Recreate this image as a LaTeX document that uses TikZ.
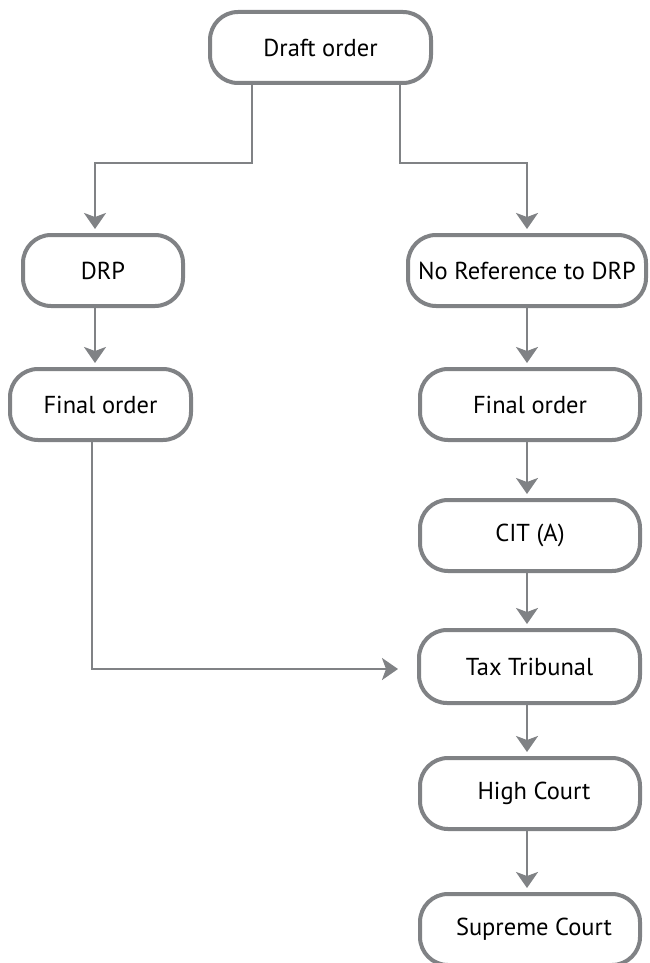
\documentclass[tikz,border=0pt]{standalone}
\usepackage{fontspec}
\setmainfont{PT Sans}
\usetikzlibrary{arrows.meta,calc}
\definecolor{linegray}{RGB}{128,130,133}
\tikzset{
  box/.style={draw=linegray, line width=4pt, rounded corners=28pt, fill=white,
    minimum height=71pt, inner sep=0pt, font=\fontsize{24.5}{28}\selectfont, text=black},
  arr/.style={draw=linegray, line width=2.5pt,
    -{Stealth[length=16pt,width=22pt,inset=4pt]}},
}
\begin{document}
\begin{tikzpicture}[x=1pt,y=-1pt]
\useasboundingbox (0,0) rectangle (650,963);
\node[box, minimum width=221pt] (draft) at (320.5,47.5) {Draft order};
\node[box, minimum width=160pt] (drp) at (103,270.5) {DRP};
\node[box, minimum width=181pt] (fl) at (100.5,404.5) {Final order};
\node[box, minimum width=238pt] (noref) at (527,270.5) {No Reference to DRP};
\node[box, minimum width=220pt] (fr) at (530,404.5) {Final order};
\node[box, minimum width=220pt] (cit) at (530,535.5) {CIT (A)};
\node[box, minimum width=221pt, minimum height=73pt] (tax) at (529.5,666.5) {Tax Tribunal};
\node[box, minimum width=220pt] (high) at (530,793.5) {\hspace{8pt}High Court};
\node[box, minimum width=220pt] (sup) at (530,929.5) {\hspace{8pt}Supreme Court};
\coordinate (lx) at (95,0);
\coordinate (rx) at (527,0);
\coordinate (bl) at (252,163);
\coordinate (br) at (400,163);
\coordinate (ty) at (0,669);
% branches from draft
\draw[arr, shorten >=4pt] (draft.south -| bl) -- (bl) -| (drp.north -| lx);
\draw[arr, shorten >=4pt] (draft.south -| br) -- (br) -| (noref.north -| rx);
% left column
\draw[arr, shorten >=4pt] (drp.south -| lx) -- (fl.north -| lx);
\draw[arr, shorten >=19pt] (fl.south -| 92,0) |- (tax.west |- ty);
% right column
\draw[arr, shorten >=4pt] (noref.south -| rx) -- (fr.north -| rx);
\draw[arr, shorten >=4pt] (fr.south -| rx) -- (cit.north -| rx);
\draw[arr, shorten >=4pt] (cit.south -| rx) -- (tax.north -| rx);
\draw[arr, shorten >=4pt] (tax.south -| rx) -- (high.north -| rx);
\draw[arr, shorten >=4pt] (high.south -| rx) -- (sup.north -| rx);
\end{tikzpicture}
\end{document}
